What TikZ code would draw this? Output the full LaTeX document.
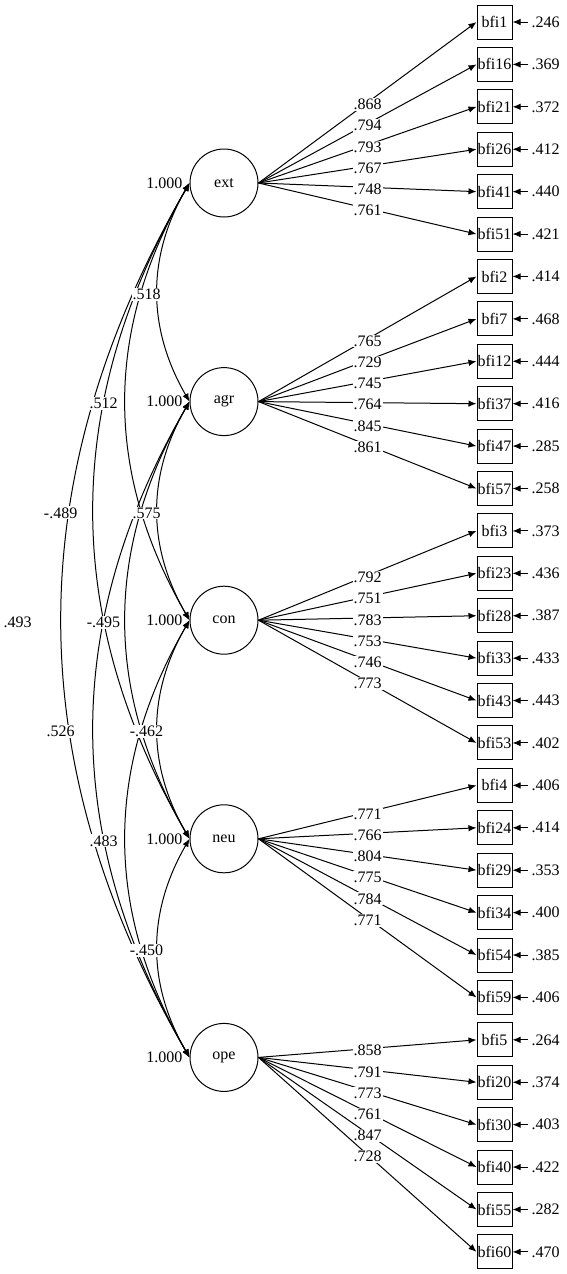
\documentclass[tikz,border=0pt]{standalone}
\usepackage{fontspec}
\setmainfont{Liberation Serif}
\usepackage{tikz}
\usetikzlibrary{arrows.meta, positioning}

\begin{document}
\begin{tikzpicture}[
    x=1pt, y=1pt,
    font=\fontsize{16}{19}\selectfont,
    node distance=42.41pt,
    latent/.style={
        circle,
        draw,
        line width=1pt,
        minimum size=68pt,
        inner sep=0pt
    },
    item/.style={
        rectangle,
        draw,
        line width=1pt,
        minimum width=35pt,
        minimum height=34pt,
        inner sep=0pt
    },
    load/.style={-{Latex[length=8pt, width=6.5pt]}, line width=1pt},
    cov/.style={{Latex[length=8pt, width=6.5pt]}-{Latex[length=8pt, width=6.5pt]}, line width=1pt},
    coef/.style={fill=white, inner sep=1pt, yshift=-2pt},
    resid/.style={inner sep=4pt}
]
\useasboundingbox (0,0) rectangle (567,-1274);

% latent factors
\node[latent] (ext) at (224,-183) {ext};
\node[latent] (agr) at (224,-401.6) {agr};
\node[latent] (con) at (224,-620.2) {con};
\node[latent] (neu) at (224,-838.8) {neu};
\node[latent] (ope) at (224,-1057.4) {ope};

\node[anchor=east, inner sep=1pt] (vext) at ([xshift=-6pt]ext.west) {1.000};
\node[anchor=east, inner sep=1pt] (vagr) at ([xshift=-6pt]agr.west) {1.000};
\node[anchor=east, inner sep=1pt] (vcon) at ([xshift=-6pt]con.west) {1.000};
\node[anchor=east, inner sep=1pt] (vneu) at ([xshift=-6pt]neu.west) {1.000};
\node[anchor=east, inner sep=1pt] (vope) at ([xshift=-6pt]ope.west) {1.000};

% items
\node[item] (bfi1) at (494.5,-22) {bfi1};
\node[item, below of=bfi1] (bfi16) {bfi16};
\node[item, below of=bfi16] (bfi21) {bfi21};
\node[item, below of=bfi21] (bfi26) {bfi26};
\node[item, below of=bfi26] (bfi41) {bfi41};
\node[item, below of=bfi41] (bfi51) {bfi51};
\node[item, below of=bfi51] (bfi2) {bfi2};
\node[item, below of=bfi2] (bfi7) {bfi7};
\node[item, below of=bfi7] (bfi12) {bfi12};
\node[item, below of=bfi12] (bfi37) {bfi37};
\node[item, below of=bfi37] (bfi47) {bfi47};
\node[item, below of=bfi47] (bfi57) {bfi57};
\node[item, below of=bfi57] (bfi3) {bfi3};
\node[item, below of=bfi3] (bfi23) {bfi23};
\node[item, below of=bfi23] (bfi28) {bfi28};
\node[item, below of=bfi28] (bfi33) {bfi33};
\node[item, below of=bfi33] (bfi43) {bfi43};
\node[item, below of=bfi43] (bfi53) {bfi53};
\node[item, below of=bfi53] (bfi4) {bfi4};
\node[item, below of=bfi4] (bfi24) {bfi24};
\node[item, below of=bfi24] (bfi29) {bfi29};
\node[item, below of=bfi29] (bfi34) {bfi34};
\node[item, below of=bfi34] (bfi54) {bfi54};
\node[item, below of=bfi54] (bfi59) {bfi59};
\node[item, below of=bfi59] (bfi5) {bfi5};
\node[item, below of=bfi5] (bfi20) {bfi20};
\node[item, below of=bfi20] (bfi30) {bfi30};
\node[item, below of=bfi30] (bfi40) {bfi40};
\node[item, below of=bfi40] (bfi55) {bfi55};
\node[item, below of=bfi55] (bfi60) {bfi60};

% residuals
\node[resid, right=15pt of bfi1] (e1) {.246} edge[load] (bfi1);
\node[resid, right=15pt of bfi16] (e16) {.369} edge[load] (bfi16);
\node[resid, right=15pt of bfi21] (e21) {.372} edge[load] (bfi21);
\node[resid, right=15pt of bfi26] (e26) {.412} edge[load] (bfi26);
\node[resid, right=15pt of bfi41] (e41) {.440} edge[load] (bfi41);
\node[resid, right=15pt of bfi51] (e51) {.421} edge[load] (bfi51);
\node[resid, right=15pt of bfi2] (e2) {.414} edge[load] (bfi2);
\node[resid, right=15pt of bfi7] (e7) {.468} edge[load] (bfi7);
\node[resid, right=15pt of bfi12] (e12) {.444} edge[load] (bfi12);
\node[resid, right=15pt of bfi37] (e37) {.416} edge[load] (bfi37);
\node[resid, right=15pt of bfi47] (e47) {.285} edge[load] (bfi47);
\node[resid, right=15pt of bfi57] (e57) {.258} edge[load] (bfi57);
\node[resid, right=15pt of bfi3] (e3) {.373} edge[load] (bfi3);
\node[resid, right=15pt of bfi23] (e23) {.436} edge[load] (bfi23);
\node[resid, right=15pt of bfi28] (e28) {.387} edge[load] (bfi28);
\node[resid, right=15pt of bfi33] (e33) {.433} edge[load] (bfi33);
\node[resid, right=15pt of bfi43] (e43) {.443} edge[load] (bfi43);
\node[resid, right=15pt of bfi53] (e53) {.402} edge[load] (bfi53);
\node[resid, right=15pt of bfi4] (e4) {.406} edge[load] (bfi4);
\node[resid, right=15pt of bfi24] (e24) {.414} edge[load] (bfi24);
\node[resid, right=15pt of bfi29] (e29) {.353} edge[load] (bfi29);
\node[resid, right=15pt of bfi34] (e34) {.400} edge[load] (bfi34);
\node[resid, right=15pt of bfi54] (e54) {.385} edge[load] (bfi54);
\node[resid, right=15pt of bfi59] (e59) {.406} edge[load] (bfi59);
\node[resid, right=15pt of bfi5] (e5) {.264} edge[load] (bfi5);
\node[resid, right=15pt of bfi20] (e20) {.374} edge[load] (bfi20);
\node[resid, right=15pt of bfi30] (e30) {.403} edge[load] (bfi30);
\node[resid, right=15pt of bfi40] (e40) {.422} edge[load] (bfi40);
\node[resid, right=15pt of bfi55] (e55) {.282} edge[load] (bfi55);
\node[resid, right=15pt of bfi60] (e60) {.470} edge[load] (bfi60);

% loadings
\path (ext.east) edge[load] node[coef] (l1) {.868} (bfi1.west)
                 edge[load] node[coef] (l16) {.794} (bfi16.west)
                 edge[load] node[coef] (l21) {.793} (bfi21.west)
                 edge[load] node[coef] (l26) {.767} (bfi26.west)
                 edge[load] node[coef] (l41) {.748} (bfi41.west)
                 edge[load] node[coef] (l51) {.761} (bfi51.west);
\path (agr.east) edge[load] node[coef] (l2) {.765} (bfi2.west)
                 edge[load] node[coef] (l7) {.729} (bfi7.west)
                 edge[load] node[coef] (l12) {.745} (bfi12.west)
                 edge[load] node[coef] (l37) {.764} (bfi37.west)
                 edge[load] node[coef] (l47) {.845} (bfi47.west)
                 edge[load] node[coef] (l57) {.861} (bfi57.west);
\path (con.east) edge[load] node[coef] (l3) {.792} (bfi3.west)
                 edge[load] node[coef] (l23) {.751} (bfi23.west)
                 edge[load] node[coef] (l28) {.783} (bfi28.west)
                 edge[load] node[coef] (l33) {.753} (bfi33.west)
                 edge[load] node[coef] (l43) {.746} (bfi43.west)
                 edge[load] node[coef] (l53) {.773} (bfi53.west);
\path (neu.east) edge[load] node[coef] (l4) {.771} (bfi4.west)
                 edge[load] node[coef] (l24) {.766} (bfi24.west)
                 edge[load] node[coef] (l29) {.804} (bfi29.west)
                 edge[load] node[coef] (l34) {.775} (bfi34.west)
                 edge[load] node[coef] (l54) {.784} (bfi54.west)
                 edge[load] node[coef] (l59) {.771} (bfi59.west);
\path (ope.east) edge[load] node[coef] (l5) {.858} (bfi5.west)
                 edge[load] node[coef] (l20) {.791} (bfi20.west)
                 edge[load] node[coef] (l30) {.773} (bfi30.west)
                 edge[load] node[coef] (l40) {.761} (bfi40.west)
                 edge[load] node[coef] (l55) {.847} (bfi55.west)
                 edge[load] node[coef] (l60) {.728} (bfi60.west);

% factor covariances
\draw[cov] (ext.west) to[bend right=30] coordinate[midway] (mea) (agr.west);
\draw[cov] (ext.west) to[bend right=30] coordinate[midway] (mec) (con.west);
\draw[cov] (ext.west) to[bend right=30] coordinate[midway] (men) (neu.west);
\draw[cov] (ext.west) to[bend right=30] coordinate[midway] (meo) (ope.west);
\draw[cov] (agr.west) to[bend right=30] coordinate[midway] (mac) (con.west);
\draw[cov] (agr.west) to[bend right=30] coordinate[midway] (man) (neu.west);
\draw[cov] (agr.west) to[bend right=30] coordinate[midway] (mao) (ope.west);
\draw[cov] (con.west) to[bend right=30] coordinate[midway] (mcn) (neu.west);
\draw[cov] (con.west) to[bend right=30] coordinate[midway] (mco) (ope.west);
\draw[cov] (neu.west) to[bend right=30] coordinate[midway] (mno) (ope.west);

\node[coef, xshift=-11pt] (rea) at (mea) {.518};
\node[coef, xshift=-22pt] (rec) at (mec) {.512};
\node[coef, xshift=-33pt] (ren) at (men) {-.489};
\node[coef, xshift=-44pt] (reo) at (meo) {.493};
\node[coef, xshift=-11pt] (rac) at (mac) {.575};
\node[coef, xshift=-22pt] (ran) at (man) {-.495};
\node[coef, xshift=-33pt] (rao) at (mao) {.526};
\node[coef, xshift=-11pt] (rcn) at (mcn) {-.462};
\node[coef, xshift=-22pt] (rco) at (mco) {.483};
\node[coef, xshift=-11pt] (rno) at (mno) {-.450};

\end{tikzpicture}
\end{document}
